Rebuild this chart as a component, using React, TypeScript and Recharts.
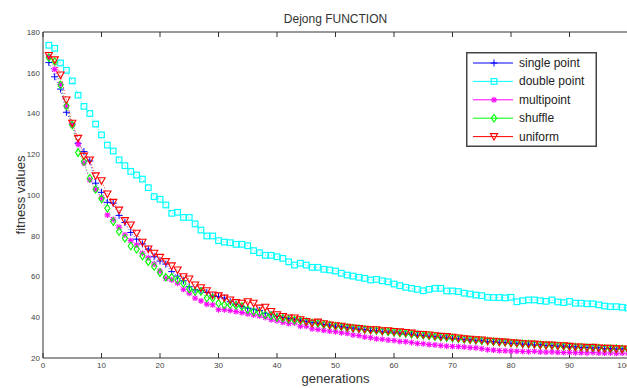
import React from 'react';
import { LineChart, Line, XAxis, YAxis, Legend } from 'recharts';

// generations 1..100
const generations = Array.from({ length: 100 }, (_, i) => i + 1);
const xTicks = [0, 10, 20, 30, 40, 50, 60, 70, 80, 90, 100];
const yTicks = [20, 40, 60, 80, 100, 120, 140, 160, 180];

const singlePoint = [
  165, 158, 152, 140.6, 134.8, 125.4, 121.3, 116.7, 105.8, 101.3,
  96.4, 96, 90, 86.5, 81.6, 78.3, 76, 73.4, 69.7, 67.6,
  66.1, 62.4, 60.2, 57.9, 55, 53.5, 53.1, 52.2, 50.5, 50.2,
  49.4, 47.6, 46.4, 45.3, 44.5, 44, 43.3, 42, 41.2, 40.4,
  39.8, 39.4, 38.7, 38.5, 38, 37.4, 37.1, 36.4, 36.2, 35.6,
  35.4, 34.9, 34.7, 34.1, 34, 33.5, 33.3, 32.8, 32.7, 32.3,
  32.2, 31.7, 31.6, 31.1, 31, 30.5, 30.5, 30, 29.9, 29.4,
  29.4, 29, 28.9, 28.5, 28.5, 28, 28, 27.6, 27.6, 27.2,
  27.2, 26.8, 26.8, 26.4, 26.5, 26.1, 26.1, 25.8, 25.8, 25.4,
  25.5, 25.1, 25.2, 24.9, 25, 24.6, 24.7, 24.4, 24.5, 24.2,
];

const doublePoint = [
  173.5, 172, 164.8, 161.2, 156, 149, 143.5, 140, 134.8, 129.5,
  124.5, 121.6, 117.2, 114.4, 111.6, 109.8, 107.8, 103.6, 99.2, 97.9,
  95.1, 91, 91.5, 89, 89, 85.8, 82.8, 79.9, 79.9, 77.6,
  76.9, 76.6, 75.8, 75.8, 75.1, 72.7, 71.7, 70.4, 70.4, 69.7,
  68.9, 67.2, 65.6, 66.5, 65.6, 64.5, 64.5, 63.5, 63.2, 62.7,
  61.6, 60.7, 60.2, 59.6, 59.1, 58.3, 58.6, 57.9, 57.4, 56.3,
  55.5, 54.7, 54.2, 53.7, 53, 53.7, 54.2, 54.2, 52.9, 52.9,
  52.6, 51.8, 51.4, 50.9, 50.6, 49.8, 49.7, 49.7, 49.5, 49.8,
  47.6, 48.1, 48.5, 48.5, 48.1, 47.8, 48.5, 47.5, 47.2, 47.8,
  46.9, 46.9, 46.6, 46.6, 46.1, 45.5, 45.2, 45.2, 44.9, 44.5,
];

const multiPoint = [
  168, 161.7, 154.3, 143.5, 134.4, 125, 115.6, 107.4, 102.8, 98.6,
  90.2, 88, 84.2, 80.4, 77.6, 75.5, 71.4, 69.2, 66.1, 62.7,
  59.1, 58.3, 56.7, 53.7, 51.8, 49.4, 48, 46.4, 46.1, 43.7,
  43.7, 43.3, 42.8, 42.3, 41.7, 41.2, 40.7, 39.9, 38.8, 38.3,
  37.5, 36.9, 37.2, 35.6, 35.6, 34.3, 34, 33.6, 33.2, 32.9,
  32.4, 32.1, 31.3, 31, 30.3, 30, 29.4, 29.2, 28.8, 28.6,
  28.1, 28, 27.6, 27.1, 27, 26.6, 26.4, 26.1, 25.8, 25.7,
  25.6, 25.4, 25.1, 25, 24.6, 24.1, 23.9, 23.6, 23.5, 23.4,
  23.3, 23.2, 23.1, 23.3, 23, 22.9, 23, 22.8, 22.7, 22.8,
  22.6, 22.6, 22.5, 22.7, 22.5, 22.4, 22.5, 22.3, 22.4, 22.3,
];

const shuffle = [
  167.4, 165.5, 154, 143.7, 134.4, 120.8, 116.4, 108.2, 102.8, 98.1,
  93.5, 87, 82.1, 78.8, 75, 73.4, 70.1, 67.3, 64.9, 61.9,
  59.6, 59.6, 58.3, 56.7, 53.9, 52.6, 52.6, 49.4, 49.4, 46.9,
  46.1, 46.1, 45.8, 45.3, 43.7, 42.8, 42.3, 41.2, 40.7, 39.9,
  39.5, 39, 38.6, 38.3, 37.8, 37.2, 37, 36.5, 36.1, 35.6,
  35.3, 34.9, 34.6, 34.4, 34, 33.6, 33.5, 33.1, 32.9, 32.7,
  32.3, 32.1, 31.7, 31.4, 31.2, 30.9, 30.5, 30.3, 30.1, 29.8,
  29.5, 29.2, 29, 28.7, 28.5, 28.3, 28, 27.8, 27.7, 27.4,
  27.2, 27, 26.8, 26.7, 26.4, 26.3, 26.1, 25.9, 25.8, 25.6,
  25.4, 25.3, 25.1, 25, 24.9, 24.7, 24.6, 24.6, 24.4, 24.2,
];

const uniform = [
  168.5, 166.3, 158.9, 146.6, 135.2, 127.8, 119.1, 117.2, 109.4, 107,
  100.5, 96.4, 92.6, 87.4, 85.3, 81.2, 76.8, 73.5, 71.4, 69.4,
  67.3, 65.2, 63.2, 59.9, 58.8, 55.8, 54.5, 53, 50.9, 50.5,
  49.4, 48.5, 47.2, 46.9, 47.6, 46.9, 44.5, 44.9, 42.8, 41.2,
  40.4, 39.6, 39.6, 38.8, 37.9, 37.1, 37.6, 36.8, 36.2, 35.8,
  35.6, 35.1, 34.7, 34.5, 34.1, 33.8, 33.9, 33.3, 33.4, 33,
  32.8, 32.5, 32.2, 31.6, 31.5, 31.3, 30.9, 30.6, 30.5, 30.2,
  29.8, 29.4, 29.2, 28.9, 28.8, 28.3, 28.2, 27.9, 27.8, 27.4,
  27.3, 27, 26.9, 26.8, 26.5, 26.3, 26.3, 26, 26, 25.7,
  25.4, 25.4, 25.1, 25.2, 24.9, 24.7, 24.8, 24.5, 24.4, 24.3,
];

const chartData = generations.map((g, i) => ({
  g,
  single: singlePoint[i],
  double: doublePoint[i],
  multi: multiPoint[i],
  shuffle: shuffle[i],
  uniform: uniform[i],
}));

type Shape = 'plus' | 'square' | 'star' | 'diamond' | 'triangle';

const legendOrder = ['single', 'double', 'multi', 'shuffle', 'uniform'];
const shapes: Record<string, Shape> = {
  single: 'plus',
  double: 'square',
  multi: 'star',
  shuffle: 'diamond',
  uniform: 'triangle',
};

const Marker = ({ shape, color, cx, cy }: { shape: Shape; color: string; cx: number; cy: number }) => {
  switch (shape) {
    case 'plus':
      return (
        <g stroke={color} strokeWidth={1}>
          <line x1={cx - 3.5} y1={cy} x2={cx + 3.5} y2={cy} />
          <line x1={cx} y1={cy - 3.5} x2={cx} y2={cy + 3.5} />
        </g>
      );
    case 'square':
      return <rect x={cx - 2.8} y={cy - 2.8} width={5.6} height={5.6} fill="none" stroke={color} strokeWidth={1.2} />;
    case 'star':
      return (
        <g stroke={color} strokeWidth={1.1}>
          <line x1={cx - 3} y1={cy} x2={cx + 3} y2={cy} />
          <line x1={cx} y1={cy - 3} x2={cx} y2={cy + 3} />
          <line x1={cx - 2.2} y1={cy - 2.2} x2={cx + 2.2} y2={cy + 2.2} />
          <line x1={cx - 2.2} y1={cy + 2.2} x2={cx + 2.2} y2={cy - 2.2} />
        </g>
      );
    case 'diamond':
      return (
        <polygon
          points={`${cx},${cy - 3.8} ${cx + 2.6},${cy} ${cx},${cy + 3.8} ${cx - 2.6},${cy}`}
          fill="none"
          stroke={color}
          strokeWidth={1.1}
        />
      );
    default:
      return (
        <polygon
          points={`${cx - 3.6},${cy - 3} ${cx + 3.6},${cy - 3} ${cx},${cy + 3.6}`}
          fill="none"
          stroke={color}
          strokeWidth={1.1}
        />
      );
  }
};

const renderDot = (shape: Shape, color: string) => (props: any) => {
  const { cx, cy, index } = props;
  if (cx == null || cy == null) return <g key={`d-${index}`} />;
  return (
    <g key={`d-${index}`}>
      <Marker shape={shape} color={color} cx={cx} cy={cy} />
    </g>
  );
};

// draws nothing: the inward tick lines come from tickLine
const NoLabel = () => <g />;

const renderLegend = (props: any) => {
  const payload = [...(props.payload || [])].sort(
    (a: any, b: any) => legendOrder.indexOf(a.dataKey) - legendOrder.indexOf(b.dataKey)
  );
  return (
    <svg width={131} height={95} style={{ display: 'block' }}>
      <rect x={0.75} y={0.75} width={129.5} height={93.5} fill="#fff" stroke="#444" strokeWidth={1.5} />
      {payload.map((entry: any, i: number) => {
        const y = 11 + i * 18.4;
        return (
          <g key={entry.value}>
            <line x1={7} y1={y} x2={47} y2={y} stroke={entry.color} strokeWidth={1} />
            <Marker shape={shapes[entry.dataKey]} color={entry.color} cx={28} cy={y} />
            <text
              x={53}
              y={y}
              dominantBaseline="central"
              fontSize={12}
              fill="#222"
              fontFamily="'Liberation Sans', Arial, sans-serif"
            >
              {entry.value}
            </text>
          </g>
        );
      })}
    </svg>
  );
};

const YLabel = (props: any) => {
  const { x, y, height } = props.viewBox;
  const lx = x + 20;
  const ly = y + height / 2;
  return (
    <text
      x={lx}
      y={ly}
      transform={`rotate(-90 ${lx} ${ly})`}
      textAnchor="middle"
      dominantBaseline="central"
      fontSize={13}
      fill="#333"
      fontFamily="'Liberation Sans', Arial, sans-serif"
    >
      fitness values
    </text>
  );
};

const XLabel = (props: any) => {
  const { x, y, width } = props.viewBox;
  return (
    <text
      x={x + width / 2}
      y={y + 20}
      textAnchor="middle"
      dominantBaseline="central"
      fontSize={13}
      fill="#333"
      fontFamily="'Liberation Sans', Arial, sans-serif"
    >
      generations
    </text>
  );
};

const tickStyle = { fontSize: 8, fill: '#444', fontFamily: "'Liberation Sans', Arial, sans-serif" };
const axisColor = '#333';
const seriesLine = { strokeWidth: 0.8, strokeDasharray: '1 2' };

export default function App() {
  return (
    <div style={{ position: 'absolute', left: 0, top: 0, width: 627, height: 388, overflow: 'hidden', background: '#fff' }}>
      <div
        style={{
          position: 'absolute',
          left: 0,
          width: 671,
          top: 12,
          textAlign: 'center',
          fontSize: 12,
          color: '#333',
          fontFamily: "'Liberation Sans', Arial, sans-serif",
          lineHeight: '14px',
        }}
      >
        Dejong FUNCTION
      </div>
      <LineChart width={630} height={388} data={chartData} margin={{ top: 32, right: 2, left: 0, bottom: 0 }}>
        <XAxis
          dataKey="g"
          type="number"
          domain={[0, 100]}
          ticks={xTicks}
          tick={tickStyle}
          tickLine={false}
          tickSize={0}
          tickMargin={4}
          axisLine={{ stroke: axisColor }}
          height={30}
          label={<XLabel />}
        />
        <XAxis
          xAxisId="bottomTicks"
          dataKey="g"
          type="number"
          domain={[0, 100]}
          ticks={xTicks}
          orientation="bottom"
          mirror
          tick={<NoLabel />}
          tickSize={5}
          tickLine={{ stroke: axisColor }}
          axisLine={false}
          height={5}
        />
        <XAxis
          xAxisId="top"
          dataKey="g"
          type="number"
          domain={[0, 100]}
          ticks={xTicks}
          orientation="top"
          mirror
          tick={<NoLabel />}
          tickSize={5}
          tickLine={{ stroke: axisColor }}
          axisLine={{ stroke: axisColor }}
          height={5}
        />
        <YAxis
          type="number"
          domain={[20, 180]}
          ticks={yTicks}
          tick={tickStyle}
          tickLine={false}
          tickSize={0}
          tickMargin={3}
          axisLine={{ stroke: axisColor }}
          width={43}
          label={<YLabel />}
        />
        <YAxis
          yAxisId="leftTicks"
          type="number"
          domain={[20, 180]}
          ticks={yTicks}
          orientation="left"
          mirror
          tick={<NoLabel />}
          tickSize={5}
          tickLine={{ stroke: axisColor }}
          axisLine={false}
          width={5}
        />
        <YAxis
          yAxisId="right"
          type="number"
          domain={[20, 180]}
          ticks={yTicks}
          orientation="right"
          mirror
          tick={<NoLabel />}
          tickSize={5}
          tickLine={{ stroke: axisColor }}
          axisLine={{ stroke: axisColor }}
          width={5}
        />
        <Legend
          content={renderLegend}
          layout="vertical"
          align="center"
          verticalAlign="middle"
          wrapperStyle={{ left: 466, top: 52, width: 131, height: 95 }}
        />
        <Line type="linear" dataKey="single" name="single point" stroke="#0000ff" {...seriesLine} dot={renderDot('plus', '#0000ff')} activeDot={false} isAnimationActive={false} />
        <Line type="linear" dataKey="double" name="double point" stroke="#00ffff" {...seriesLine} dot={renderDot('square', '#00ffff')} activeDot={false} isAnimationActive={false} />
        <Line type="linear" dataKey="multi" name="multipoint" stroke="#ff00ff" {...seriesLine} dot={renderDot('star', '#ff00ff')} activeDot={false} isAnimationActive={false} />
        <Line type="linear" dataKey="shuffle" name="shuffle" stroke="#00ff00" {...seriesLine} dot={renderDot('diamond', '#00ff00')} activeDot={false} isAnimationActive={false} />
        <Line type="linear" dataKey="uniform" name="uniform" stroke="#ff0000" {...seriesLine} dot={renderDot('triangle', '#ff0000')} activeDot={false} isAnimationActive={false} />
      </LineChart>
    </div>
  );
}
